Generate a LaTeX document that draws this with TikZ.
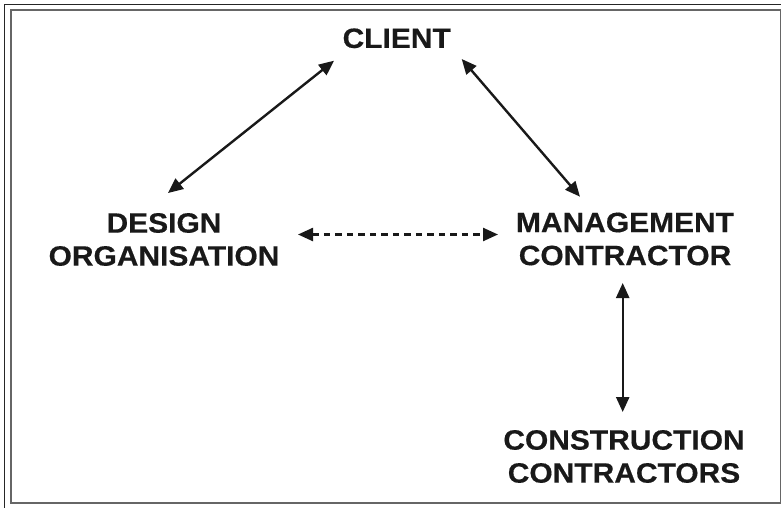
\documentclass[tikz,border=0pt]{standalone}
\usepackage{fontspec}
\setmainfont{Liberation Sans}[FakeStretch=1.07]
\usetikzlibrary{arrows.meta}
\begin{document}
\begin{tikzpicture}[x=1pt,y=1pt,
  lbl/.style={font=\fontsize{28}{33}\selectfont\bfseries\addfontfeature{FakeBold=0.4}, align=center, inner sep=0pt, text=black!90},
  conn/.style={line width=2.4pt, draw=black!90, {Triangle[length=15pt,width=13pt]}-{Triangle[length=15pt,width=13pt]}},
  dashconn/.style={conn, dash pattern=on 6.5pt off 5pt}
]
\useasboundingbox (0,0) rectangle (781,507);
% frames
\draw[line width=1.5pt, black!85] (4.5,-2) -- (4.5,502.5) -- (783,502.5);
\draw[line width=2pt, black!60] (11,4.5) rectangle (780.5,496.5);
% nodes
\node[lbl] (client) at (396.7,468.7) {CLIENT};
\node[lbl] (design) at (164,267.5) {DESIGN\\ORGANISATION};
\node[lbl] (mgmt) at (625,268) {MANAGEMENT\\CONTRACTOR};
\node[lbl] (constr) at (624,50.5) {CONSTRUCTION\\CONTRACTORS};
% connectors
\draw[conn] ([shift={(4,46.5)}]design.center) -- ([shift={(-62.7,-22.4)}]client.center);
\draw[conn] ([shift={(65,-20.7)}]client.center) -- ([shift={(-45,42.3)}]mgmt.center);
\draw[dashconn] ([shift={(134,5)}]design.center) -- ([shift={(-127,4.5)}]mgmt.center);
\draw[conn] ([shift={(-2.3,-44)}]mgmt.center) -- ([shift={(-1.3,44.5)}]constr.center);
\end{tikzpicture}
\end{document}
